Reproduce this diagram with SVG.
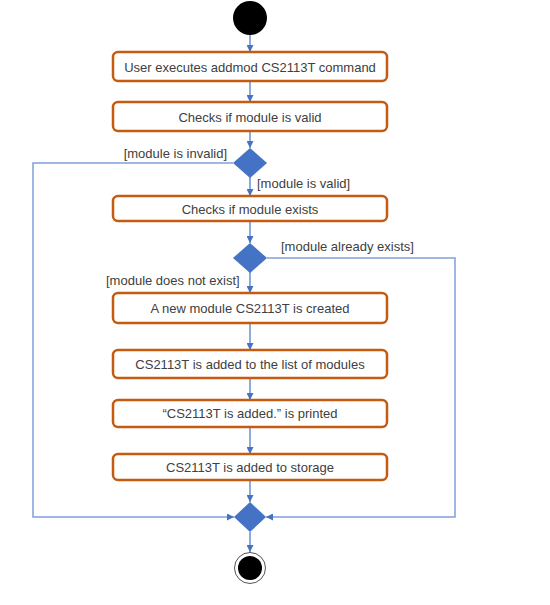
<svg xmlns="http://www.w3.org/2000/svg" width="550" height="605" viewBox="0 0 550 605">
<style>
.box{fill:#fff;stroke:#C55A11;stroke-width:2.5}
.dec{fill:#4472C4}
.t{font-family:"Liberation Sans",Arial,sans-serif;font-size:13px;fill:#404040}
.c{text-anchor:middle}
.e{text-anchor:end}
.ln{fill:none;stroke:#4472C4;stroke-width:1.2}
.lp{fill:none;stroke:#7FA0DC;stroke-width:1.5}
</style>
<defs>
<marker id="ah" viewBox="0 0 10 10" refX="10" refY="5" markerWidth="7" markerHeight="7" orient="auto" markerUnits="userSpaceOnUse">
<path d="M0,0 L10,5 L0,10 z" fill="#4472C4"/>
</marker>
</defs>
<rect width="550" height="605" fill="#fff"/>
<g id="connectors">
<line class="ln" x1="250" y1="35" x2="250" y2="52" marker-end="url(#ah)"/>
<line class="ln" x1="250" y1="81" x2="250" y2="102" marker-end="url(#ah)"/>
<line class="ln" x1="250" y1="131" x2="250" y2="148" marker-end="url(#ah)"/>
<line class="ln" x1="250" y1="177" x2="250" y2="196" marker-end="url(#ah)"/>
<line class="ln" x1="250" y1="221" x2="250" y2="243" marker-end="url(#ah)"/>
<line class="ln" x1="250" y1="272" x2="250" y2="293" marker-end="url(#ah)"/>
<line class="ln" x1="250" y1="323" x2="250" y2="350" marker-end="url(#ah)"/>
<line class="ln" x1="250" y1="378" x2="250" y2="400" marker-end="url(#ah)"/>
<line class="ln" x1="250" y1="427" x2="250" y2="454" marker-end="url(#ah)"/>
<line class="ln" x1="250" y1="480" x2="250" y2="502" marker-end="url(#ah)"/>
<line class="ln" x1="250" y1="532" x2="250" y2="552" marker-end="url(#ah)"/>
<polyline class="lp" points="233,163 33,163 33,517 234,517" marker-end="url(#ah)"/>
<polyline class="lp" points="267,258 455,258 455,517 266,517" marker-end="url(#ah)"/>
<text class="t e" x="227" y="158">[module is invalid]</text>
<text class="t" x="257" y="188">[module is valid]</text>
<text class="t" x="281" y="251">[module already exists]</text>
<text class="t" x="106" y="285">[module does not exist]</text>
</g>
<g id="start"><circle cx="250" cy="18" r="17" fill="#000"/></g>
<g id="n1"><rect class="box" x="113" y="52" width="274" height="29" rx="5"/><text class="t c" x="250" y="71.5">User executes addmod CS2113T command</text></g>
<g id="n2"><rect class="box" x="113" y="102" width="274" height="29" rx="5"/><text class="t c" x="250" y="121.5">Checks if module is valid</text></g>
<g id="d1"><polygon class="dec" points="250,148 267,163 250,178 233,163"/></g>
<g id="n3"><rect class="box" x="113" y="196" width="274" height="25" rx="5"/><text class="t c" x="250" y="213.5">Checks if module exists</text></g>
<g id="d2"><polygon class="dec" points="250,243 267,258 250,273 233,258"/></g>
<g id="n4"><rect class="box" x="113" y="293" width="274" height="30" rx="5"/><text class="t c" x="250" y="312.5">A new module CS2113T is created</text></g>
<g id="n5"><rect class="box" x="113" y="350" width="274" height="28" rx="5"/><text class="t c" x="250" y="368.5">CS2113T is added to the list of modules</text></g>
<g id="n6"><rect class="box" x="113" y="400" width="274" height="27" rx="5"/><text class="t c" x="250" y="418">“CS2113T is added.” is printed</text></g>
<g id="n7"><rect class="box" x="113" y="454" width="274" height="26" rx="5"/><text class="t c" x="250" y="471.5">CS2113T is added to storage</text></g>
<g id="merge"><polygon class="dec" points="250,502 266,517 250,532 234,517"/></g>
<g id="end"><circle cx="250" cy="568" r="15.5" fill="#fff" stroke="#555" stroke-width="1"/><circle cx="250" cy="568" r="12" fill="#000"/></g>
</svg>
